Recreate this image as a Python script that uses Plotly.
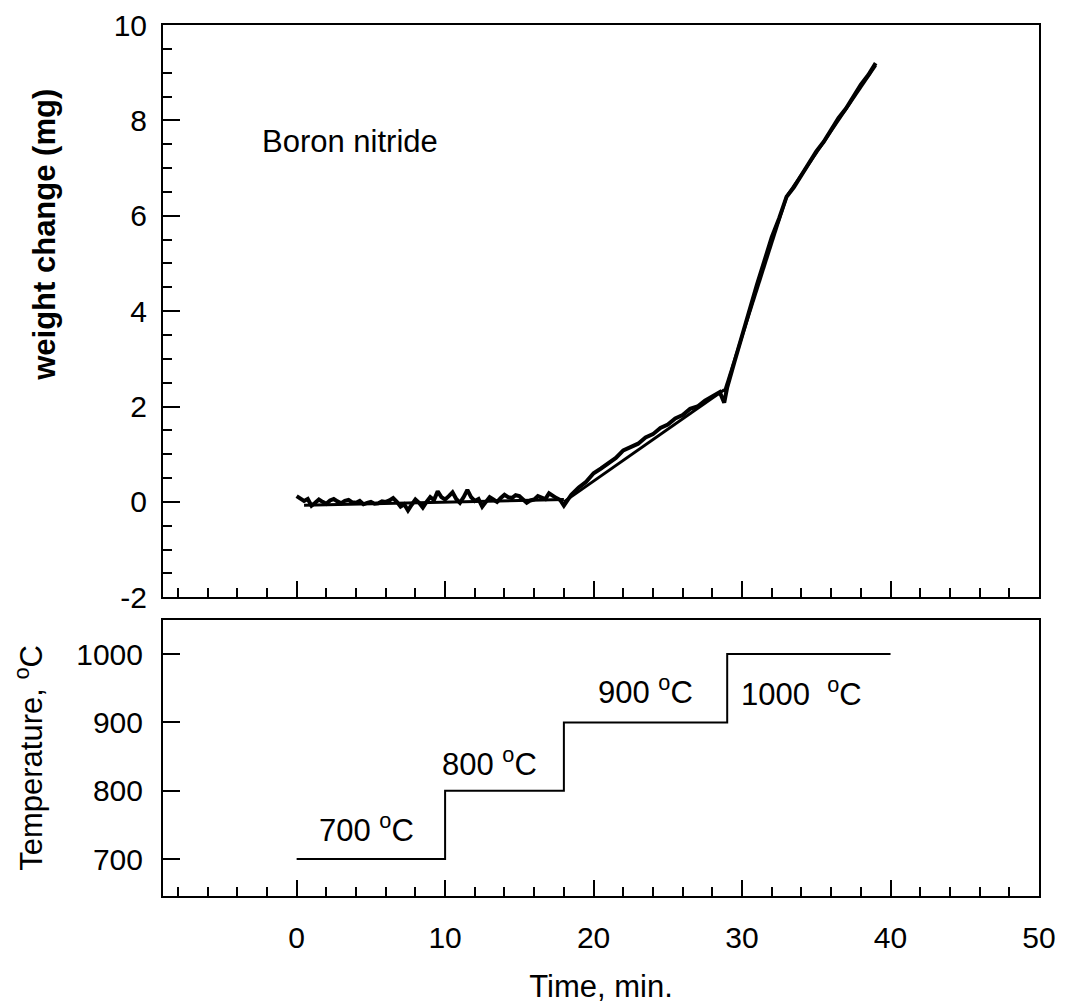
import plotly.graph_objects as go
from plotly.subplots import make_subplots

# weight change record
time_min = [0.0, 0.25, 0.5, 0.75, 1.0, 1.25, 1.5, 1.75, 2.0, 2.25, 2.5, 2.75, 3.0,
            3.25, 3.5, 3.75, 4.0, 4.25, 4.5, 4.75, 5.0, 5.25, 5.5, 5.75, 6.0, 6.25,
            6.5, 6.75, 7.0, 7.25, 7.5, 7.75, 8.0, 8.25, 8.5, 8.75, 9.0, 9.25, 9.5,
            9.75, 10.0, 10.25, 10.5, 10.75, 11.0, 11.25, 11.5, 11.75, 12.0, 12.25,
            12.5, 12.75, 13.0, 13.25, 13.5, 13.75, 14.0, 14.25, 14.5, 14.75, 15.0,
            15.25, 15.5, 15.75, 16.0, 16.25, 16.5, 16.75, 17.0, 17.25, 17.5, 17.75,
            18.0, 18.5, 19.0, 19.5, 20.0, 20.5, 21.0, 21.5, 22.0, 22.5, 23.0, 23.5,
            24.0, 24.5, 25.0, 25.5, 26.0, 26.5, 27.0, 27.5, 28.0, 28.5, 28.8, 29.0,
            29.5, 30.0, 30.5, 31.0, 31.5, 32.0, 32.5, 33.0, 33.5, 34.0, 34.5, 35.0,
            35.5, 36.0, 36.5, 37.0, 37.5, 38.0, 38.5, 39.0]
weight_mg = [0.12, 0.08, 0.02, 0.06, -0.08, -0.02, 0.05, 0.0, -0.04, 0.03, 0.06, 0.01,
             -0.03, 0.02, 0.04, -0.01, -0.02, 0.02, -0.05, -0.02, 0.0, -0.04, -0.03,
             0.01, 0.0, 0.03, 0.08, 0.0, -0.1, -0.05, -0.18, -0.06, 0.05, -0.02, -0.12,
             0.0, 0.1, 0.04, 0.22, 0.1, 0.05, 0.12, 0.2, 0.06, -0.02, 0.1, 0.25, 0.1,
             0.02, 0.06, -0.1, 0.0, 0.1, 0.05, 0.0, 0.08, 0.15, 0.1, 0.08, 0.14, 0.12,
             0.05, -0.02, 0.03, 0.05, 0.12, 0.1, 0.06, 0.18, 0.12, 0.08, 0.04, -0.08,
             0.15, 0.3, 0.42, 0.6, 0.7, 0.82, 0.92, 1.08, 1.15, 1.22, 1.35, 1.42, 1.55,
             1.62, 1.75, 1.82, 1.95, 2.0, 2.12, 2.2, 2.3, 2.08, 2.4, 2.95, 3.5, 4.0,
             4.55, 5.05, 5.55, 5.95, 6.4, 6.6, 6.85, 7.1, 7.35, 7.55, 7.8, 8.05, 8.25,
             8.5, 8.75, 8.95, 9.2]

# straight-line fits for each temperature stage
fit_time = [[0.5, 18.0], [18.0, 28.8], [28.8, 33.0], [33.0, 39.0]]
fit_weight = [[-0.07, 0.05], [0.0, 2.35], [2.3, 6.4], [6.4, 9.15]]

# furnace temperature program
step_time = [0, 10, 18, 29, 40]
step_temp = [700, 800, 900, 1000, 1000]
step_labels = ["700 <sup>o</sup>C", "800 <sup>o</sup>C", "900 <sup>o</sup>C",
               "1000\u00a0 <sup>o</sup>C"]
label_time = [4.7, 13.0, 23.5, 34.0]
label_temp = [746, 842, 948, 944]

FONT = "Liberation Sans"
BLACK = "black"

fig = make_subplots(rows=2, cols=1, shared_xaxes=False, vertical_spacing=0.0)

fig.add_trace(go.Scatter(x=time_min, y=weight_mg, mode="lines",
                         line=dict(color=BLACK, width=4), showlegend=False),
              row=1, col=1)
for ft, fw in zip(fit_time, fit_weight):
    fig.add_trace(go.Scatter(x=ft, y=fw, mode="lines",
                             line=dict(color=BLACK, width=3), showlegend=False),
                  row=1, col=1)

fig.add_trace(go.Scatter(x=step_time, y=step_temp, mode="lines", line_shape="hv",
                         line=dict(color=BLACK, width=2), showlegend=False),
              row=2, col=1)

for txt, lt, lv in zip(step_labels, label_time, label_temp):
    fig.add_annotation(x=lt, y=lv, xref="x2", yref="y2", text=txt, showarrow=False,
                       font=dict(size=31, color=BLACK, family=FONT))

fig.add_annotation(x=-2.45, y=7.55, xref="x", yref="y", text="Boron nitride",
                   showarrow=False, xanchor="left",
                   font=dict(size=31, color=BLACK, family=FONT))

fig.add_annotation(x=-0.1347, y=5.6, xref="paper", yref="y",
                   text="<b>weight change (mg)</b>", textangle=-90, showarrow=False,
                   xanchor="center", yanchor="middle",
                   font=dict(size=31, color=BLACK, family=FONT))

axis_common = dict(showline=True, linecolor=BLACK, linewidth=2, mirror=True,
                   showgrid=False, zeroline=False, ticks="inside", tickcolor=BLACK,
                   tickwidth=2, automargin=False, ticklabeloverflow="allow",
                   tickfont=dict(size=30, color=BLACK, family=FONT))

fig.update_xaxes(range=[-9, 50], tick0=0, dtick=10, ticklen=16,
                 minor=dict(dtick=2, tick0=0, ticklen=9, ticks="inside",
                            tickcolor=BLACK, tickwidth=2),
                 **axis_common)
fig.update_xaxes(showticklabels=False, row=1, col=1)
fig.update_xaxes(ticklabelstandoff=14, title=dict(text="Time, min.", standoff=22,
                 font=dict(size=31, color=BLACK, family=FONT)), row=2, col=1)

fig.update_yaxes(range=[-2, 10], tick0=0, dtick=2, ticklen=17, ticklabelstandoff=8,
                 labelalias={"\u22122": "-2"},
                 minor=dict(dtick=0.5, tick0=0, ticklen=9, ticks="inside",
                            tickcolor=BLACK, tickwidth=2),
                 row=1, col=1, **axis_common)
fig.update_yaxes(range=[646, 1050], tickvals=[700, 800, 900, 1000], ticklen=17,
                 ticklabelstandoff=12,
                 title=dict(text="Temperature, <sup>o</sup>C", standoff=24,
                            font=dict(size=31, color=BLACK, family=FONT)),
                 row=2, col=1, **axis_common)

fig.update_layout(
    width=1058, height=1000,
    margin=dict(l=155, r=27, t=17, b=112),
    paper_bgcolor="white", plot_bgcolor="white",
    xaxis=dict(domain=[0, 1]), xaxis2=dict(domain=[0, 1]),
    yaxis=dict(domain=[0.343, 1.0]), yaxis2=dict(domain=[0.0, 0.317]),
)

fig.write_html("out.html")
